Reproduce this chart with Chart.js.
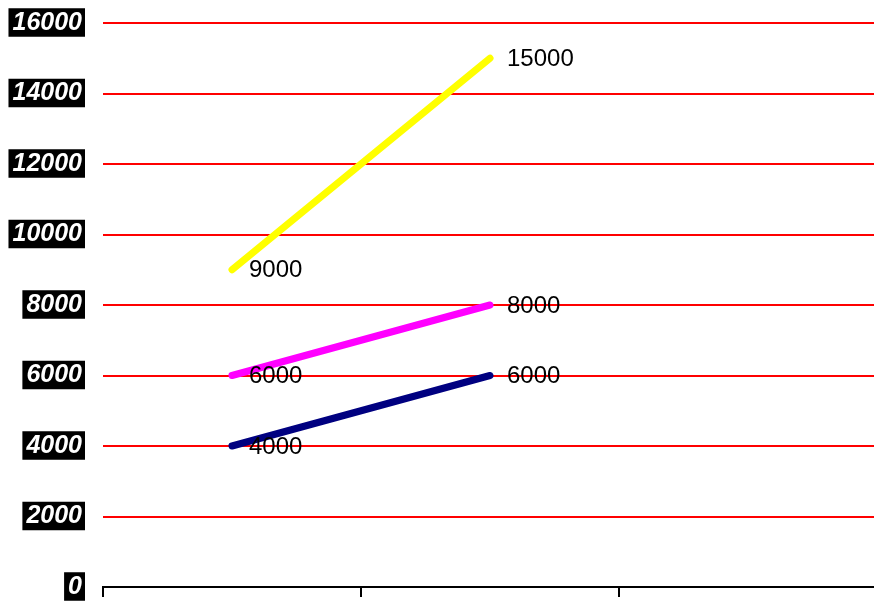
<!DOCTYPE html>
<html><head><meta charset="utf-8">
<script src="https://cdn.jsdelivr.net/npm/chart.js@4"></script>
<style>html,body{margin:0;padding:0;background:#fff;overflow:hidden;width:874px;height:602px;}#wrap{width:877px;height:602px;}</style>
</head><body><div id="wrap"><canvas id="c"></canvas></div>
<script>
const categories = ["A", "B", "C"];
const seriesYellow = [9000, 15000, null];
const seriesMagenta = [6000, 8000, null];
const seriesNavy = [4000, 6000, null];
const yTicks = [0, 2000, 4000, 6000, 8000, 10000, 12000, 14000, 16000];

const labelPlugin = {
  id: 'pointLabels',
  afterDatasetsDraw(chart) {
    const ctx = chart.ctx;
    ctx.save();
    ctx.font = '24px "Liberation Sans", Arial, sans-serif';
    ctx.fillStyle = '#000';
    ctx.textAlign = 'left';
    ctx.textBaseline = 'middle';
    chart.data.datasets.forEach((ds, i) => {
      const meta = chart.getDatasetMeta(i);
      meta.data.forEach((pt, j) => {
        const v = ds.data[j];
        if (v === null || v === undefined) return;
        ctx.fillText(String(v), pt.x + 17, pt.y + 1);
      });
    });
    ctx.restore();
  }
};

new Chart(document.getElementById('c'), {
  type: 'line',
  data: {
    labels: categories,
    datasets: [
      { data: seriesYellow, borderColor: '#FFFF00', borderWidth: 7 },
      { data: seriesMagenta, borderColor: '#FF00FF', borderWidth: 7 },
      { data: seriesNavy, borderColor: '#000080', borderWidth: 7 }
    ]
  },
  options: {
    responsive: true,
    maintainAspectRatio: false,
    animation: false,
    layout: { padding: { top: 23, right: 0, left: 0, bottom: 0 } },
    elements: {
      point: { radius: 0, hoverRadius: 0 },
      line: { borderCapStyle: 'round', borderJoinStyle: 'round', tension: 0 }
    },
    plugins: { legend: { display: false }, tooltip: { enabled: false } },
    scales: {
      x: {
        offset: true,
        grid: { offset: true, drawOnChartArea: false, drawTicks: true, tickLength: 10, color: '#000', lineWidth: 2 },
        border: { display: true, color: '#000', width: 2 },
        ticks: { display: false },
        afterFit(scale) { scale.height = 15; scale.paddingLeft = 0; scale.paddingRight = 0; }
      },
      y: {
        min: 0, max: 16000,
        afterBuildTicks(scale) { scale.ticks = yTicks.map(v => ({ value: v })); },
        grid: { color: '#FF0000', lineWidth: 2, drawTicks: false },
        border: { display: false },
        ticks: {
          color: '#fff',
          callback: (v) => String(v),
          font: { family: '"Liberation Sans", Arial, sans-serif', size: 25, weight: 'bold', style: 'italic', lineHeight: 1.1 },
          showLabelBackdrop: true,
          backdropColor: '#000',
          backdropPadding: { top: 1, bottom: 0, left: 4, right: 3 },
          padding: 21
        },
        afterFit(scale) { scale.width = 103; scale.paddingTop = 0; scale.paddingBottom = 0; }
      }
    }
  },
  plugins: [labelPlugin]
});
</script>
</body></html>
